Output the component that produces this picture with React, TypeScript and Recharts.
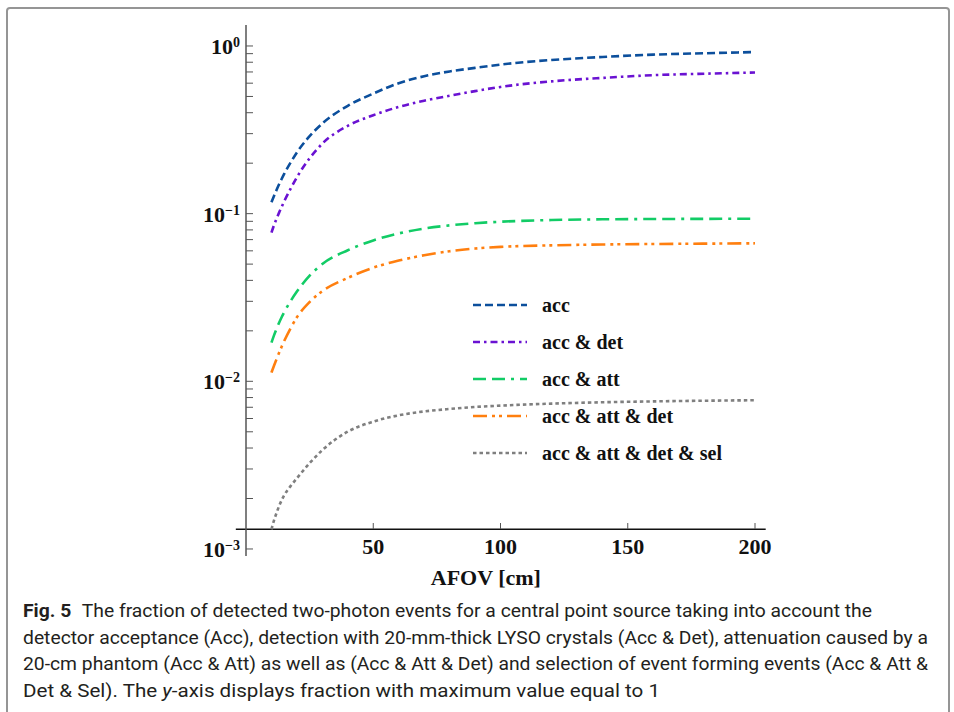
import React from 'react';
import { LineChart, Line, XAxis, YAxis, ReferenceLine, Legend } from 'recharts';

// ---- data ----
const AFOV = [10, 11, 12, 13, 14, 15, 17.5, 20, 25, 30, 40, 50, 60, 70, 80, 90, 100, 120, 140, 160, 180, 200];
const ACC = [0.117, 0.1276, 0.1384, 0.1496, 0.161, 0.1726, 0.2014, 0.2317, 0.2897, 0.345, 0.44, 0.52, 0.6, 0.66, 0.705, 0.74, 0.775, 0.825, 0.86, 0.888, 0.905, 0.92];
const ACC_DET = [0.077, 0.0853, 0.0933, 0.1014, 0.1096, 0.1183, 0.1406, 0.1648, 0.2138, 0.2618, 0.3342, 0.3864, 0.433, 0.472, 0.505, 0.538, 0.57, 0.615, 0.645, 0.67, 0.683, 0.695];
const ACC_ATT = [0.017, 0.0188, 0.02056, 0.02234, 0.0241, 0.0258, 0.03006, 0.03428, 0.04266, 0.0501, 0.0605, 0.0692, 0.0762, 0.0815, 0.0851, 0.0877, 0.0895, 0.0916, 0.0925, 0.0929, 0.0931, 0.0933];
const ACC_ATT_DET = [0.01127, 0.01239, 0.01355, 0.01479, 0.01607, 0.01738, 0.0207, 0.0241, 0.02972, 0.03451, 0.0414, 0.04764, 0.05248, 0.05649, 0.0597, 0.06194, 0.06339, 0.06471, 0.06546, 0.06592, 0.06622, 0.06653];
const ACC_ATT_DET_SEL = [0.00131, 0.00148, 0.00164, 0.0018, 0.00195, 0.00209, 0.00237, 0.00264, 0.00325, 0.00389, 0.00501, 0.00575, 0.00627, 0.00661, 0.00684, 0.00703, 0.00716, 0.00736, 0.0075, 0.00759, 0.00766, 0.00771];

const SERIES_NAMES = ['acc', 'acc & det', 'acc & att', 'acc & att & det', 'acc & att & det & sel'];
const SERIES_KEYS = ['acc', 'accDet', 'accAtt', 'accAttDet', 'accAttDetSel'];
const SERIES_COLORS = ['#0c4f9c', '#6a12d2', '#12cc66', '#ff7f0f', '#7f7f7f'];
const SERIES_DASHES = ['8 4', '7 4 2.5 4', '13 6 13 6 3 6', '14 5 3 4 3 5', '3.5 3'];

const X_TICKS = [50, 100, 150, 200];
const Y_TICKS = [
  0.001, 0.002, 0.003, 0.004, 0.005, 0.006, 0.007, 0.008, 0.009,
  0.01, 0.02, 0.03, 0.04, 0.05, 0.06, 0.07, 0.08, 0.09,
  0.1, 0.2, 0.3, 0.4, 0.5, 0.6, 0.7, 0.8, 0.9,
  1,
];
const X_DOMAIN = [0, 204.2];
const Y_DOMAIN = [0.000908, 1.334];
const X_AXIS_START = -4;
const AXIS_CROSS = 0.00131;

const X_LABEL = 'AFOV [cm]';
const CAPTION_LINES = [
  'The fraction of detected two-photon events for a central point source taking into account the',
  'detector acceptance (Acc), detection with 20-mm-thick LYSO crystals (Acc & Det), attenuation caused by a',
  '20-cm phantom (Acc & Att) as well as (Acc & Att & Det) and selection of event forming events (Acc & Att &',
];

const data = AFOV.map((x, i) => ({
  x,
  acc: ACC[i],
  accDet: ACC_DET[i],
  accAtt: ACC_ATT[i],
  accAttDet: ACC_ATT_DET[i],
  accAttDetSel: ACC_ATT_DET_SEL[i],
}));

const SERIF = "'Liberation Serif', 'Times New Roman', serif";
const NARROW = "'Roboto', 'DejaVu Sans Condensed', sans-serif";

const YTick = (props: any) => {
  const { x, y, payload } = props;
  const e = Math.log10(payload.value);
  const r = Math.round(e);
  if (Math.abs(e - r) > 1e-6) return <g />;
  const exp = r < 0 ? '\u2212' + String(-r) : String(r);
  return (
    <text x={x} y={y + 8} textAnchor="end" fontFamily={SERIF} fontWeight={700} fontSize={22} fill="#111">
      10
      <tspan dy={-7} fontSize={14}>{exp}</tspan>
    </text>
  );
};

const XTick = (props: any) => {
  const { x, y, payload } = props;
  return (
    <g>
      <line x1={x} x2={x} y1={y - 27} y2={y - 33} stroke="#555" strokeWidth={1} />
      <text x={x} y={y - 2} textAnchor="middle" fontFamily={SERIF} fontWeight={700} fontSize={22} fill="#111">
        {payload.value}
      </text>
    </g>
  );
};

const XLabel = (props: any) => {
  const vb = props.viewBox;
  return (
    <text x={vb.x + vb.width / 2 - 20} y={vb.y + 29} textAnchor="middle" fontFamily={SERIF} fontWeight={700} fontSize={22} fill="#111">
      {X_LABEL}
    </text>
  );
};

const LegendBox = () => (
  <div style={{ fontFamily: SERIF, fontWeight: 700, fontSize: 20, color: '#111' }}>
    {SERIES_NAMES.map((n, i) => (
      <div key={n} style={{ display: 'flex', alignItems: 'center', height: 37 }}>
        <svg width={56} height={6} style={{ display: 'block' }}>
          <line x1={0} x2={54} y1={3} y2={3} stroke={SERIES_COLORS[i]} strokeWidth={2.6} strokeDasharray={SERIES_DASHES[i]} />
        </svg>
        <span style={{ marginLeft: 13, whiteSpace: 'nowrap', lineHeight: '20px' }}>{n}</span>
      </div>
    ))}
  </div>
);

export default function App() {
  return (
    <div style={{ position: 'absolute', left: 0, top: 0, width: 954, height: 712, background: '#fff', overflow: 'hidden' }}>
      <div style={{ position: 'absolute', left: 6, top: 7, width: 940, height: 730, border: '2px solid #959595', borderRadius: 4 }} />
      <div style={{ position: 'absolute', left: 0, top: 0 }}>
        <LineChart width={954} height={712} data={data} margin={{ top: 25, right: 188.3, bottom: 116, left: 186 }}>
          <XAxis
            dataKey="x"
            type="number"
            domain={X_DOMAIN}
            allowDataOverflow
            ticks={X_TICKS}
            interval={0}
            axisLine={false}
            tickLine={false}
            tickSize={0}
            tickMargin={0}
            height={40}
            tick={<XTick />}
            label={XLabel}
          />
          <YAxis
            type="number"
            scale="log"
            domain={Y_DOMAIN}
            allowDataOverflow
            ticks={Y_TICKS}
            interval={0}
            width={60}
            axisLine={{ stroke: '#555', strokeWidth: 1.5 }}
            tickLine={{ stroke: '#555', strokeWidth: 1 }}
            tickSize={-7}
            tickMargin={13}
            tick={<YTick />}
          />
          <ReferenceLine
            segment={[{ x: X_AXIS_START, y: AXIS_CROSS }, { x: X_DOMAIN[1], y: AXIS_CROSS }]}
            ifOverflow="visible"
            stroke="#111"
            strokeWidth={1.5}
          />
          {SERIES_KEYS.map((k, i) => (
            <Line
              key={k}
              dataKey={k}
              name={SERIES_NAMES[i]}
              type="monotone"
              stroke={SERIES_COLORS[i]}
              strokeWidth={2.6}
              strokeDasharray={SERIES_DASHES[i]}
              dot={false}
              activeDot={false}
              isAnimationActive={false}
            />
          ))}
          <Legend
            layout="vertical"
            align="center"
            verticalAlign="middle"
            wrapperStyle={{ left: 473, top: 286.5, width: 300, bottom: 'auto', right: 'auto' }}
            content={() => <LegendBox />}
          />
        </LineChart>
      </div>
      <svg width={954} height={122} style={{ position: 'absolute', left: 0, top: 590 }}>
        <text x={23} y={27} fontFamily={NARROW} fontSize={19} fill="#231f20" textLength={849} lengthAdjust="spacingAndGlyphs">
          <tspan fontWeight={700}>Fig. 5</tspan>
          <tspan dx={6}> {CAPTION_LINES[0]}</tspan>
        </text>
        <text x={23} y={53.5} fontFamily={NARROW} fontSize={19} fill="#231f20" textLength={905} lengthAdjust="spacingAndGlyphs">
          {CAPTION_LINES[1]}
        </text>
        <text x={23} y={80} fontFamily={NARROW} fontSize={19} fill="#231f20" textLength={905} lengthAdjust="spacingAndGlyphs">
          {CAPTION_LINES[2]}
        </text>
        <text x={23} y={106.5} fontFamily={NARROW} fontSize={19} fill="#231f20" textLength={637} lengthAdjust="spacingAndGlyphs">
          {'Det & Sel). The '}
          <tspan fontStyle="italic">y</tspan>
          {'-axis displays fraction with maximum value equal to 1'}
        </text>
      </svg>
    </div>
  );
}
